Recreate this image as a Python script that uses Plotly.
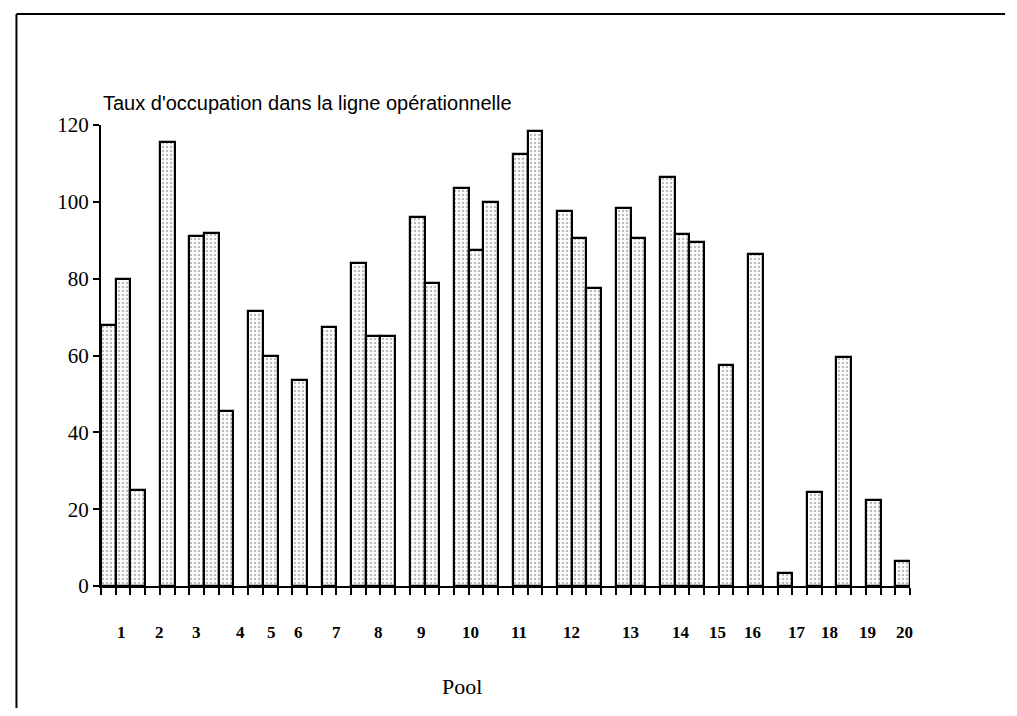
import plotly.graph_objects as go

# Bar slots (position index along the axis) and occupation rates
slots = [0, 1, 2, 4, 6, 7, 8, 10, 11, 13, 15, 17, 18, 19, 21, 22, 24, 25, 26,
         28, 29, 31, 32, 33, 35, 36, 38, 39, 40, 42, 44, 46, 48, 50, 52, 54]
values = [68, 80, 25, 115.5, 91, 92, 45.5, 71.5, 60, 53.5, 67.5, 84, 65, 65,
          96, 79, 103.5, 87.5, 100, 112.5, 118.5, 97.5, 90.5, 77.5, 98.5, 90.5,
          106.5, 91.5, 89.5, 57.5, 86.5, 3.5, 24.5, 59.5, 22.5, 6.5]

# Pool labels and where they are printed along the slot axis
pool_labels = [str(i) for i in range(1, 21)]
pool_label_pos = [1.36, 3.95, 6.46, 9.45, 11.6, 13.4, 16.0, 18.85, 21.8, 25.1,
                  28.4, 32.0, 36.0, 39.4, 41.9, 44.3, 47.3, 49.5, 52.1, 54.6]

n_slots = 55
y_ticks = [0, 20, 40, 60, 80, 100, 120]

fig = go.Figure()
fig.add_trace(go.Bar(
    x=[s + 0.5 for s in slots],
    y=values,
    width=1.0,
    marker=dict(
        color="white",
        line=dict(color="black", width=2.2),
        pattern=dict(shape=".", fgcolor="#777777", bgcolor="white",
                     size=4, solidity=0.3),
    ),
    hoverinfo="y",
))

annotations = []
for lab, pos in zip(pool_labels, pool_label_pos):
    annotations.append(dict(
        x=pos, y=0, xref="x", yref="y", text=lab, showarrow=False,
        yshift=-46, xanchor="center", yanchor="middle",
        font=dict(family="Liberation Serif, Times New Roman, serif",
                  size=17, color="black", weight="bold"),
    ))

annotations.append(dict(
    x=0.446, y=0, xref="paper", yref="paper", text="Pool", showarrow=False,
    yshift=-100, xanchor="center", yanchor="middle",
    font=dict(family="Liberation Serif, Times New Roman, serif", size=22,
              color="black"),
))
annotations.append(dict(
    x=0.0, y=1, xref="paper", yref="paper",
    text="Taux d'occupation dans la ligne opérationnelle", showarrow=False,
    xanchor="left", yanchor="middle", yshift=22, xshift=0,
    font=dict(family="Liberation Sans, Arial, sans-serif",
              size=20, color="black"),
))

fig.update_layout(
    width=1001, height=700,
    margin=dict(l=93, r=99, t=117, b=122, autoexpand=False),
    paper_bgcolor="white", plot_bgcolor="white",
    showlegend=False,
    bargap=0,
    annotations=annotations,
    shapes=[
        dict(type="line", xref="paper", yref="paper",
             x0=-0.1045, x1=1.1175, y0=1.2408, y1=1.2408,
             line=dict(color="black", width=2)),
        dict(type="line", xref="paper", yref="paper",
             x0=-0.1045, x1=-0.1045, y0=1.2408, y1=-0.3,
             line=dict(color="black", width=2)),
    ],
)

fig.update_xaxes(
    range=[0, n_slots], showgrid=False, zeroline=False,
    showline=True, linecolor="black", linewidth=2,
    ticks="outside", ticklen=7, tickwidth=1.5, tickcolor="black",
    tick0=0, dtick=1, showticklabels=False,
)
fig.update_yaxes(
    range=[0, 120], showgrid=False, zeroline=False,
    showline=True, linecolor="black", linewidth=2,
    ticks="outside", ticklen=6, tickwidth=1.5, tickcolor="black",
    tickvals=y_ticks, ticktext=[str(v) for v in y_ticks],
    tickfont=dict(family="Liberation Serif, Times New Roman, serif",
                  size=21, color="black"),
)

fig.write_html("out.html")
